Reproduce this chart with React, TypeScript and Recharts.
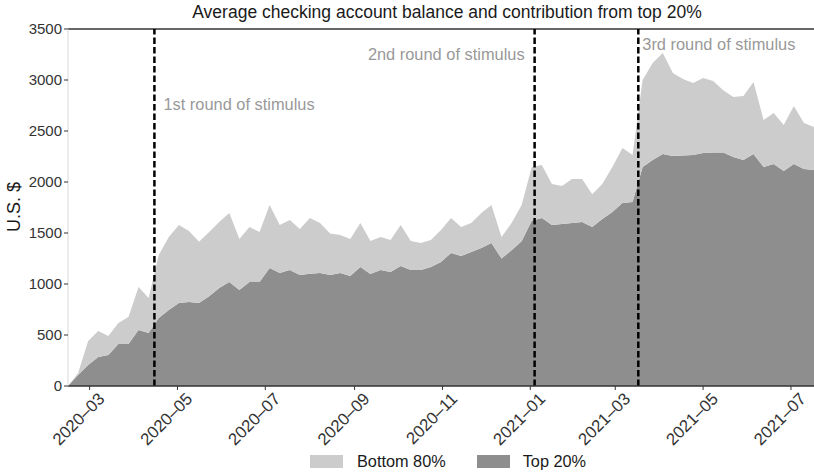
import React from 'react';
import { AreaChart, Area, XAxis, YAxis, ReferenceLine } from 'recharts';

// weekly observations
const dates = [
  '2020-02-15', '2020-02-22', '2020-02-29', '2020-03-07', '2020-03-14', '2020-03-21', '2020-03-28',
  '2020-04-04', '2020-04-11', '2020-04-18', '2020-04-25', '2020-05-02', '2020-05-09', '2020-05-16',
  '2020-05-23', '2020-05-30', '2020-06-06', '2020-06-13', '2020-06-20', '2020-06-27', '2020-07-04',
  '2020-07-11', '2020-07-18', '2020-07-25', '2020-08-01', '2020-08-08', '2020-08-15', '2020-08-22',
  '2020-08-29', '2020-09-05', '2020-09-12', '2020-09-19', '2020-09-26', '2020-10-03', '2020-10-10',
  '2020-10-17', '2020-10-24', '2020-10-31', '2020-11-07', '2020-11-14', '2020-11-21', '2020-11-28',
  '2020-12-05', '2020-12-12', '2020-12-19', '2020-12-26', '2021-01-02', '2021-01-09', '2021-01-16',
  '2021-01-23', '2021-01-30', '2021-02-06', '2021-02-13', '2021-02-20', '2021-02-27', '2021-03-06',
  '2021-03-13', '2021-03-20', '2021-03-27', '2021-04-03', '2021-04-10', '2021-04-17', '2021-04-24',
  '2021-05-01', '2021-05-08', '2021-05-15', '2021-05-22', '2021-05-29', '2021-06-05', '2021-06-12',
  '2021-06-19', '2021-06-26', '2021-07-03', '2021-07-10', '2021-07-17',
];

const top20 = [
  0, 108, 206, 284, 304, 412, 412, 549, 520, 667, 745, 814, 824, 814, 880,
  960, 1020, 941, 1020, 1020, 1157, 1108, 1137, 1088, 1100, 1108, 1088, 1108, 1078, 1167,
  1098, 1137, 1118, 1176, 1137, 1137, 1167, 1216, 1304, 1275, 1314, 1353, 1402, 1250, 1330,
  1420, 1620, 1647, 1578, 1588, 1598, 1608, 1559, 1637, 1706, 1794, 1804, 2147, 2216, 2275,
  2255, 2260, 2265, 2284, 2290, 2290, 2245, 2216, 2275, 2147, 2176, 2108, 2176, 2127, 2118,
];

const bottom80 = [
  0, 19, 235, 255, 186, 206, 264, 422, 343, 617, 716, 764, 696, 601, 630,
  648, 676, 500, 539, 490, 618, 470, 490, 451, 547, 490, 407, 372, 363, 431,
  324, 324, 313, 402, 285, 265, 264, 313, 343, 284, 284, 343, 373, 211, 268,
  355, 527, 520, 402, 373, 431, 421, 321, 343, 441, 539, 461, 853, 951, 990,
  814, 750, 706, 736, 700, 610, 588, 627, 705, 461, 500, 451, 569, 451, 421,
];

const xTickLabels = ['2020-03', '2020-05', '2020-07', '2020-09', '2020-11', '2021-01', '2021-03', '2021-05', '2021-07'];
const yTicks = [0, 500, 1000, 1500, 2000, 2500, 3000, 3500];

const stimulusDates = ['2020-04-15', '2021-01-04', '2021-03-17'];
const stimulusLabels = ['1st round of stimulus', '2nd round of stimulus', '3rd round of stimulus'];

const toTime = (s: string) => Date.parse(s + 'T00:00:00Z');

const data = dates.map((d, i) => ({ t: toTime(d), top20: top20[i], bottom80: bottom80[i] }));
const xTicks = xTickLabels.map((m) => toTime(m + '-01'));

const FONT = '"Liberation Sans", Arial, sans-serif';
const LIGHT = '#cccccc';
const DARK = '#8e8e8e';

const fmtMonth = (v: number) => {
  const d = new Date(v);
  const m = String(d.getUTCMonth() + 1).padStart(2, '0');
  return `${d.getUTCFullYear()}\u2013${m}`;
};

const XTick = ({ x, y, payload }: any) => (
  <g transform={`translate(${x + 16},${y + 8})`}>
    <text x={0} y={0} textAnchor="end" transform="rotate(-45)" fontSize={16.8} fill="#333" fontFamily={FONT}>
      {fmtMonth(payload.value)}
    </text>
  </g>
);

// label placement for each stimulus line: anchor, dx, dy from top of plot
const labelPlace = [
  { anchor: 'start', dx: 9, dy: 81 },
  { anchor: 'end', dx: -10, dy: 31 },
  { anchor: 'start', dx: 4, dy: 21 },
];

const stimLabel = (text: string, i: number) => (props: any) => {
  const vb = props.viewBox || {};
  const p = labelPlace[i];
  return (
    <text x={vb.x + p.dx} y={vb.y + p.dy} textAnchor={p.anchor} fontSize={16.4} fill="#999" fontFamily={FONT}>
      {text}
    </text>
  );
};

const App = () => {
  return (
    <div style={{ position: 'absolute', left: 0, top: 0, width: 814, height: 472, background: '#fff', fontFamily: FONT }}>
      <div style={{ position: 'absolute', left: 74, top: 2, width: 746, textAlign: 'center', fontSize: 17.5, color: '#1a1a1a', lineHeight: '20px' }}>
        Average checking account balance and contribution from top 20%
      </div>
      <AreaChart width={814} height={472} data={data} margin={{ top: 29, right: 0, left: 0, bottom: 0 }}>
        <XAxis
          dataKey="t"
          type="number"
          domain={[data[0].t, data[data.length - 1].t]}
          ticks={xTicks}
          tick={<XTick />}
          height={86}
          tickSize={4}
          stroke="#333"
          axisLine={{ stroke: '#333', strokeWidth: 1.3 }}
          tickLine={{ stroke: '#333' }}
          interval={0}
        />
        <YAxis
          type="number"
          domain={[0, 3500]}
          ticks={yTicks}
          width={68}
          tickSize={4}
          axisLine={{ stroke: '#d9d9d9' }}
          tickLine={{ stroke: '#333' }}
          tick={{ fontSize: 15, fill: '#333', fontFamily: FONT }}
          label={(props: any) => (
            <text x={20} y={207} transform="rotate(-90, 20, 207)" textAnchor="middle" fontSize={18} fill="#1a1a1a" fontFamily={FONT}>
              U.S. $
            </text>
          )}
        />
        <Area type="linear" dataKey="top20" stackId="a" stroke="none" fill={DARK} fillOpacity={1} isAnimationActive={false} />
        <Area type="linear" dataKey="bottom80" stackId="a" stroke="none" fill={LIGHT} fillOpacity={1} isAnimationActive={false} />
        <ReferenceLine y={3500} stroke="#333" strokeWidth={1.5} />
        {stimulusDates.map((d, i) => (
          <ReferenceLine
            key={d}
            x={toTime(d)}
            stroke="#000"
            strokeWidth={2.5}
            strokeDasharray="6.5 3"
            label={stimLabel(stimulusLabels[i], i)}
          />
        ))}
      </AreaChart>
      <div style={{ position: 'absolute', left: 310, top: 452, display: 'flex', alignItems: 'center', fontSize: 16.3, color: '#1a1a1a' }}>
        <span style={{ display: 'inline-block', width: 33, height: 13, background: LIGHT, marginRight: 14 }} />
        <span style={{ marginRight: 31 }}>Bottom 80%</span>
        <span style={{ display: 'inline-block', width: 33, height: 13, background: DARK, marginRight: 13 }} />
        <span>Top 20%</span>
      </div>
    </div>
  );
};

export default App;
